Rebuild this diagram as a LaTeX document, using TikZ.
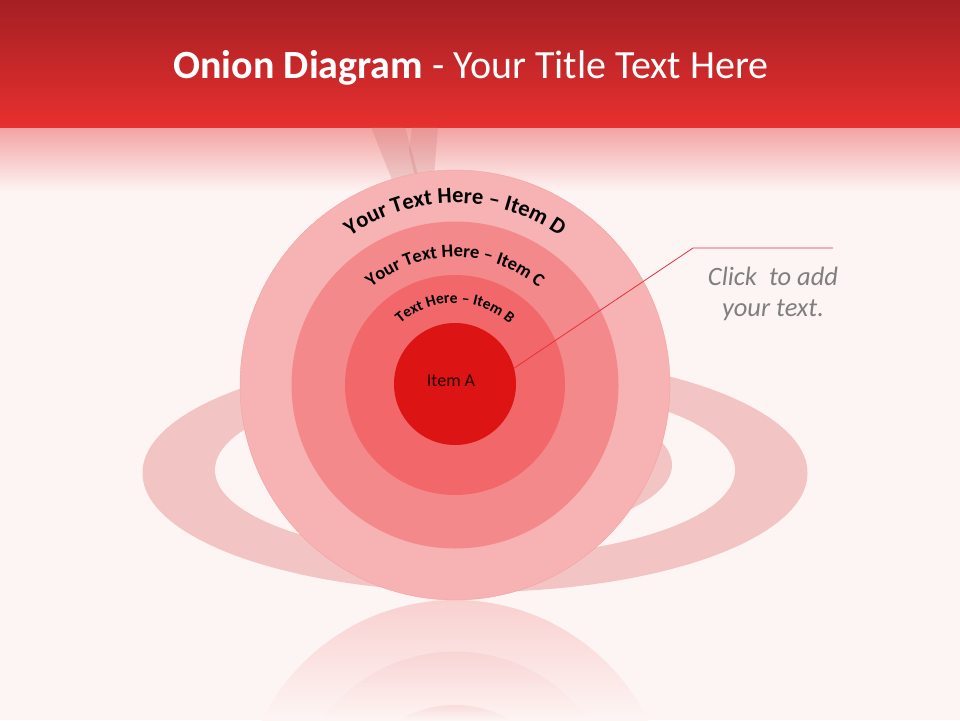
\documentclass[tikz,border=0pt]{standalone}
\usepackage{fontspec}
\setmainfont{Carlito}
\usepackage{tikz}
\usetikzlibrary{decorations.text}
\definecolor{bgpink}{HTML}{FDF5F4}
\definecolor{hdrtop}{HTML}{A51F23}
\definecolor{hdrbot}{HTML}{E8302F}
\definecolor{hdrfade}{HTML}{F3A3A3}
\definecolor{ringpink}{HTML}{F2C4C4}
\definecolor{strand}{HTML}{C46868}
\definecolor{layerD}{HTML}{F7B2B3}
\definecolor{layerC}{HTML}{F4898B}
\definecolor{layerB}{HTML}{F2676A}
\definecolor{layerA}{HTML}{DC1414}
\definecolor{reflpink}{HTML}{F9D0D0}
\definecolor{calltext}{HTML}{7F7F7F}
\definecolor{callline}{HTML}{E8303A}
\newcommand{\fs}[1]{\fontsize{#1}{#1}\selectfont}
\tikzset{
	layer/.style={circle,inner sep=0pt,minimum size=#1},
	arclabel/.style={decorate,decoration={text along path,text align=center,text={#1}}}
}

\begin{document}
\begin{tikzpicture}[x=1pt,y=-1pt]
	\useasboundingbox (0,0) rectangle (960,720);
	\fill[bgpink] (0,0) rectangle (960,720);
	% header band
	\shade[top color=hdrtop,bottom color=hdrbot] (0,0) rectangle (960,128);
	\shade[top color=hdrfade,bottom color=bgpink] (0,128) rectangle (960,192);
	\node[text=white,font=\fs{40}] (title) at (471,68) {\textbf{Onion Diagram} - Your Title Text Here};
	% ring behind the onion
	\fill[strand,opacity=0.22] (371,127) -- (405,127) -- (420,182) -- (396,190) -- cycle;
	\fill[strand,opacity=0.22] (412,127) -- (438,127) -- (434,176) -- (416,182) -- (409,150) -- cycle;
	\fill[ringpink] (475,473) ellipse (332.5 and 119);
	\fill[bgpink] (475,470) ellipse (260 and 87);
	\begin{scope}
		\clip (455,300) rectangle (760,600);
		\fill[ringpink] (455,465) ellipse (217 and 75);
	\end{scope}
	% reflection
	\foreach \r/\op in {215/1,163.5/0.7,110/0.6} {
		\begin{scope}
			\clip (455,815) circle (\r);
			\shade[top color=reflpink,bottom color=bgpink,opacity=\op] (200,{815-\r}) rectangle (710,720);
		\end{scope}
	}
	% onion layers
	\node[layer=430pt,fill=layerD,draw=layerC!45!layerD,line width=0.4pt] (itemD) at (455,385) {};
	\node[layer=327pt,fill=layerC] (itemC) at (455,385) {};
	\node[layer=220pt,fill=layerB] (itemB) at (455,385) {};
	\node[layer=122pt,fill=layerA] (itemA) at (455,384) {};
	\node[font=\fs{18},text=black!85!red] (labelA) at (451,381) {Item A};
	\path[arclabel={|\bfseries\fs{22.5}|Your Text Here – Item D}] (455,385) ++(195:182) arc[start angle=195,end angle=345,radius=182];
	\path[arclabel={|\bfseries\fs{18.5}|Your Text Here – Item C}] (455,385) ++(195:128) arc[start angle=195,end angle=345,radius=128];
	\path[arclabel={|\bfseries\fs{15.5}|Text Here – Item B}] (455,385) ++(190:82) arc[start angle=190,end angle=350,radius=82];
	% callout
	\coordinate (elbow) at (693,248);
	\coordinate (callend) at (833,248);
	\draw[callline,line width=0.8pt] (itemA.15) -- (elbow) -- (callend);
	\node[font=\itshape\fs{26.5},text=calltext,align=center] (clicktext) at (773,294) {Click~ to add\\[5pt]your text.};
\end{tikzpicture}
\end{document}
